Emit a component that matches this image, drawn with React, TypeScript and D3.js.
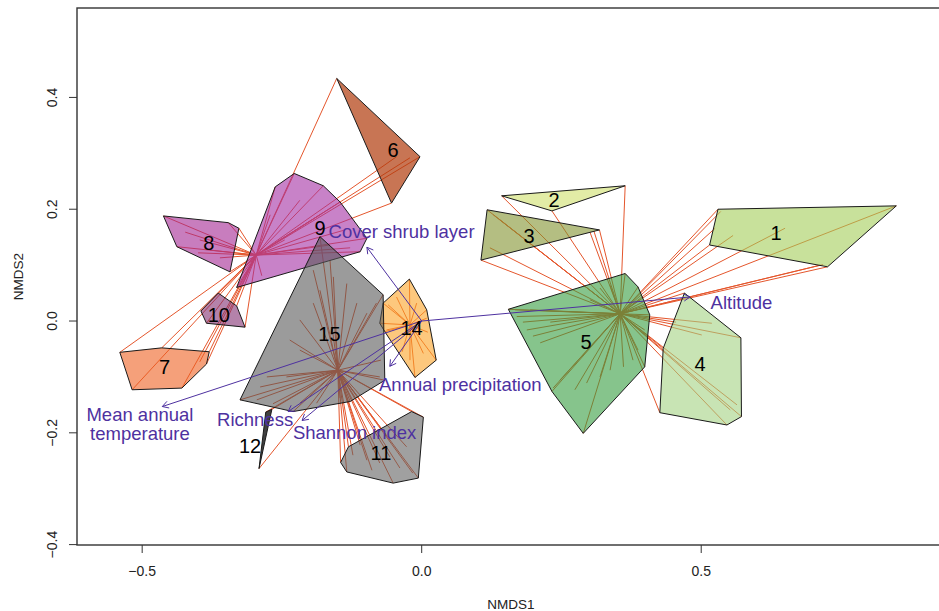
import * as d3 from 'd3';

const WIDTH = 939;
const HEIGHT = 611;
// plot box (the right edge of the box sits just outside the picture)
const plot = { left: 77, right: 945, top: 8, bottom: 545 };

const xDomain = [-0.6166, 0.9361];
const yDomain = [-0.4007, 0.56];
const xTicks = [-0.5, 0, 0.5];
const yTicks = [-0.4, -0.2, 0, 0.2, 0.4];

// hull groups
const groups = ['1', '2', '3', '4', '5', '6', '7', '8', '9', '10', '11', '12', '14', '15'];
const groupFill = [
  '#a3cd58', '#cfdf6b', '#82932f', '#a3d282', '#359d3f', '#b03a0c', '#ee6121',
  '#a32693', '#a32fa3', '#822f71', '#616161', '#000000', '#fca326', '#585858',
];
const groupAlpha = [0.6, 0.6, 0.6, 0.6, 0.6, 0.7, 0.6, 0.6, 0.6, 0.6, 0.6, 0.75, 0.6, 0.6];
// which spider centre each group is joined to
const groupSpider = [3, 3, 3, 3, 3, 0, 0, 0, 0, 0, 1, 1, 2, 1];
const groupLabelX = [0.634, 0.237, 0.192, 0.498, 0.294, -0.051, -0.46, -0.381, -0.182, -0.363, -0.073, -0.307, -0.018, -0.165];
const groupLabelY = [0.157, 0.216, 0.152, -0.076, -0.037, 0.306, -0.083, 0.14, 0.166, 0.011, -0.237, -0.224, -0.013, -0.024];

const spiderX = [-0.296, -0.15, -0.021, 0.355];
const spiderY = [0.118, -0.088, -0.007, 0.013];

// site scores: [group, NMDS1, NMDS2]
const sites: [string, number, number][] = [
  ['1', 0.53, 0.2], ['1', 0.849, 0.206], ['1', 0.726, 0.097], ['1', 0.515, 0.136], ['1', 0.525, 0.166],
  ['1', 0.557, 0.153], ['1', 0.65, 0.166], ['1', 0.713, 0.1], ['1', 0.535, 0.196], ['1', 0.718, 0.101],
  ['2', 0.143, 0.224], ['2', 0.364, 0.242], ['2', 0.233, 0.197],
  ['3', 0.117, 0.199], ['3', 0.318, 0.163], ['3', 0.106, 0.109], ['3', 0.122, 0.131], ['3', 0.128, 0.19],
  ['3', 0.14, 0.181], ['3', 0.301, 0.159], ['3', 0.308, 0.161],
  ['4', 0.47, 0.05], ['4', 0.571, -0.03], ['4', 0.572, -0.171], ['4', 0.546, -0.186], ['4', 0.426, -0.164],
  ['4', 0.432, -0.049], ['4', 0.519, -0.004], ['4', 0.501, -0.025], ['4', 0.564, -0.15], ['4', 0.552, -0.159],
  ['4', 0.455, -0.002],
  ['5', 0.364, 0.085], ['5', 0.387, 0.061], ['5', 0.408, 0.011], ['5', 0.399, -0.082], ['5', 0.289, -0.201],
  ['5', 0.233, -0.126], ['5', 0.155, 0.021], ['5', 0.17, 0.008], ['5', 0.181, -0.002], ['5', 0.188, -0.016],
  ['5', 0.199, -0.027], ['5', 0.212, -0.039], ['5', 0.167, 0.02], ['5', 0.235, -0.12], ['5', 0.247, -0.106],
  ['5', 0.274, -0.123], ['5', 0.295, -0.111], ['5', 0.319, -0.1], ['5', 0.337, -0.088], ['5', 0.361, -0.082],
  ['5', 0.378, -0.07], ['5', 0.387, -0.052], ['5', 0.319, 0.059], ['5', 0.337, 0.064], ['5', 0.301, 0.038],
  ['5', 0.39, 0.038], ['5', 0.399, -0.016], ['5', 0.194, 0.02], ['5', 0.23, -0.002],
  ['6', -0.152, 0.434], ['6', -0.003, 0.294], ['6', -0.054, 0.211], ['6', -0.045, 0.294], ['6', -0.021, 0.292],
  ['7', -0.54, -0.056], ['7', -0.465, -0.048], ['7', -0.38, -0.055], ['7', -0.385, -0.077], ['7', -0.429, -0.12],
  ['7', -0.518, -0.123], ['7', -0.397, -0.073],
  ['8', -0.462, 0.188], ['8', -0.346, 0.176], ['8', -0.327, 0.166], ['8', -0.343, 0.088], ['8', -0.438, 0.133],
  ['8', -0.423, 0.159], ['8', -0.397, 0.145], ['8', -0.379, 0.127], ['8', -0.361, 0.113], ['8', -0.4, 0.122],
  ['9', -0.228, 0.264], ['9', -0.176, 0.242], ['9', -0.146, 0.213], ['9', -0.098, 0.148], ['9', -0.11, 0.124],
  ['9', -0.331, 0.06], ['9', -0.262, 0.24], ['9', -0.218, 0.216], ['9', -0.182, 0.19], ['9', -0.137, 0.163],
  ['9', -0.164, 0.136], ['9', -0.271, 0.19], ['9', -0.128, 0.131], ['9', -0.245, 0.145], ['9', -0.286, 0.081],
  ['10', -0.364, 0.05], ['10', -0.331, 0.027], ['10', -0.316, -0.011], ['10', -0.385, -0.004], ['10', -0.395, 0.018],
  ['11', -0.018, -0.162], ['11', 0.003, -0.172], ['11', -0.006, -0.281], ['11', -0.051, -0.29], ['11', -0.134, -0.27],
  ['11', -0.145, -0.253], ['11', -0.131, -0.225], ['11', -0.123, -0.24], ['11', -0.098, -0.249], ['11', -0.075, -0.254],
  ['11', -0.057, -0.243], ['11', -0.039, -0.263], ['11', -0.016, -0.272], ['11', -0.027, -0.225], ['11', -0.057, -0.213],
  ['11', -0.11, -0.222], ['11', -0.089, -0.267],
  ['12', -0.268, -0.158], ['12', -0.279, -0.163], ['12', -0.291, -0.264],
  ['14', -0.022, 0.075], ['14', 0.009, 0.02], ['14', 0.026, -0.07], ['14', -0.012, -0.101], ['14', -0.066, -0.019],
  ['14', -0.075, -0.004], ['14', -0.069, 0.032], ['14', -0.06, 0.029], ['14', -0.045, 0.043], ['14', -0.009, 0.032],
  ['14', 0.009, 0.005], ['14', 0.011, -0.02], ['14', 0.003, -0.058], ['14', -0.021, -0.07], ['14', -0.035, -0.055],
  ['14', -0.063, -0.016],
  ['15', -0.182, 0.151], ['15', -0.069, 0.047], ['15', -0.066, -0.106], ['15', -0.128, -0.144], ['15', -0.23, -0.162],
  ['15', -0.325, -0.141], ['15', -0.218, 0.002], ['15', -0.194, 0.032], ['15', -0.182, 0.055], ['15', -0.158, 0.079],
  ['15', -0.134, 0.067], ['15', -0.116, 0.032], ['15', -0.098, 0.014], ['15', -0.081, 0.032], ['15', -0.289, -0.118],
  ['15', -0.277, -0.1], ['15', -0.242, -0.1], ['15', -0.295, -0.141], ['15', -0.266, -0.148], ['15', -0.218, -0.147],
  ['15', -0.075, -0.1], ['15', -0.073, -0.07], ['15', -0.146, -0.138], ['15', -0.188, -0.147], ['15', -0.194, 0.091],
  ['15', -0.164, 0.109], ['15', -0.218, -0.052], ['15', -0.236, -0.034],
];

// fitted environmental vectors
const envNames = ['Altitude', 'Cover shrub layer', 'Annual precipitation', 'Mean annual temperature', 'Richness', 'Shannon index'];
const envLabelLines = [['Altitude'], ['Cover shrub layer'], ['Annual precipitation'], ['Mean annual', 'temperature'], ['Richness'], ['Shannon index']];
const envX = [0.48, -0.098, -0.057, -0.464, -0.239, -0.214];
const envY = [0.043, 0.132, -0.081, -0.153, -0.162, -0.178];
const envLabelX = [0.572, -0.036, 0.069, -0.504, -0.298, -0.12];
const envLabelY = [0.034, 0.161, -0.114, -0.184, -0.177, -0.199];

const FONT = '"Liberation Sans", Arial, Helvetica, sans-serif';
const SPIDER = '#e4562c';
const ENV = '#4e31a0';
const ENV_SIZE = 18.5;
const ENV_LEADING = 18.5;

const fmt = (v: number) => (v < 0 ? '\u2212' : '') + Math.abs(v).toFixed(1);

export default function App() {
  const x = d3.scaleLinear().domain(xDomain).range([plot.left, plot.right]);
  const y = d3.scaleLinear().domain(yDomain).range([plot.bottom, plot.top]);

  const hulls = groups.map((g) => {
    const pts = sites.filter((s) => s[0] === g).map((s) => [x(s[1]), y(s[2])] as [number, number]);
    return d3.polygonHull(pts);
  });

  const head = 7;

  return (
    <svg
      width={WIDTH}
      height={HEIGHT}
      style={{ position: 'absolute', left: 0, top: 0, background: '#fff', fontFamily: FONT }}
    >
      <rect x={0} y={0} width={WIDTH} height={HEIGHT} fill="#fff" />

      {/* spider lines */}
      <g stroke={SPIDER} strokeWidth={1}>
        {sites.map((s, i) => {
          const c = groupSpider[groups.indexOf(s[0])];
          return <line key={i} x1={x(spiderX[c])} y1={y(spiderY[c])} x2={x(s[1])} y2={y(s[2])} />;
        })}
      </g>

      {/* hulls */}
      <g stroke="#1a1a1a" strokeWidth={1} strokeLinejoin="round">
        {hulls.map((h, i) =>
          h ? (
            <path key={groups[i]} d={`M${h.join('L')}Z`} fill={groupFill[i]} fillOpacity={groupAlpha[i]} />
          ) : null,
        )}
      </g>

      {/* env arrows */}
      <g stroke={ENV} strokeWidth={1} fill="none">
        {envNames.map((n, i) => {
          const x0 = x(0), y0 = y(0), x1 = x(envX[i]), y1 = y(envY[i]);
          const a = Math.atan2(y1 - y0, x1 - x0);
          const h1 = [x1 - head * Math.cos(a - Math.PI / 6), y1 - head * Math.sin(a - Math.PI / 6)];
          const h2 = [x1 - head * Math.cos(a + Math.PI / 6), y1 - head * Math.sin(a + Math.PI / 6)];
          return (
            <g key={n}>
              <line x1={x0} y1={y0} x2={x1} y2={y1} />
              <path d={`M${h1[0]},${h1[1]}L${x1},${y1}L${h2[0]},${h2[1]}`} />
            </g>
          );
        })}
      </g>
      <g fill={ENV} fontSize={ENV_SIZE} textAnchor="middle">
        {envNames.map((n, i) => {
          const lines = envLabelLines[i];
          const cx = x(envLabelX[i]);
          const top = y(envLabelY[i]) - ((lines.length - 1) * ENV_LEADING) / 2;
          return lines.map((l, j) => (
            <text key={`${n}-${j}`} x={cx} y={top + j * ENV_LEADING} dominantBaseline="central">
              {l}
            </text>
          ));
        })}
      </g>

      {/* group labels */}
      <g fill="#000" fontSize={20} textAnchor="middle">
        {groups.map((g, i) => (
          <text key={g} x={x(groupLabelX[i])} y={y(groupLabelY[i])} dominantBaseline="central">
            {g}
          </text>
        ))}
      </g>

      {/* axes */}
      <rect
        x={plot.left}
        y={plot.top}
        width={plot.right - plot.left}
        height={plot.bottom - plot.top}
        fill="none"
        stroke="#333"
        strokeWidth={1.4}
      />
      <g stroke="#333" strokeWidth={1}>
        {xTicks.map((t) => (
          <line key={`xt${t}`} x1={x(t)} x2={x(t)} y1={plot.bottom} y2={plot.bottom + 8} />
        ))}
        {yTicks.map((t) => (
          <line key={`yt${t}`} x1={plot.left} x2={plot.left - 8} y1={y(t)} y2={y(t)} />
        ))}
      </g>
      <g fill="#222" fontSize={14} textAnchor="middle">
        {xTicks.map((t) => (
          <text key={`xl${t}`} x={x(t)} y={571} dominantBaseline="central">
            {fmt(t)}
          </text>
        ))}
        {yTicks.map((t) => (
          <text key={`yl${t}`} transform={`translate(52,${y(t)}) rotate(-90)`} dominantBaseline="central">
            {fmt(t)}
          </text>
        ))}
      </g>
      <g fill="#222" fontSize={13.5} textAnchor="middle">
        <text x={511} y={604} dominantBaseline="central">NMDS1</text>
        <text transform={`translate(18,${(plot.top + plot.bottom) / 2}) rotate(-90)`} dominantBaseline="central">
          NMDS2
        </text>
      </g>
    </svg>
  );
}
